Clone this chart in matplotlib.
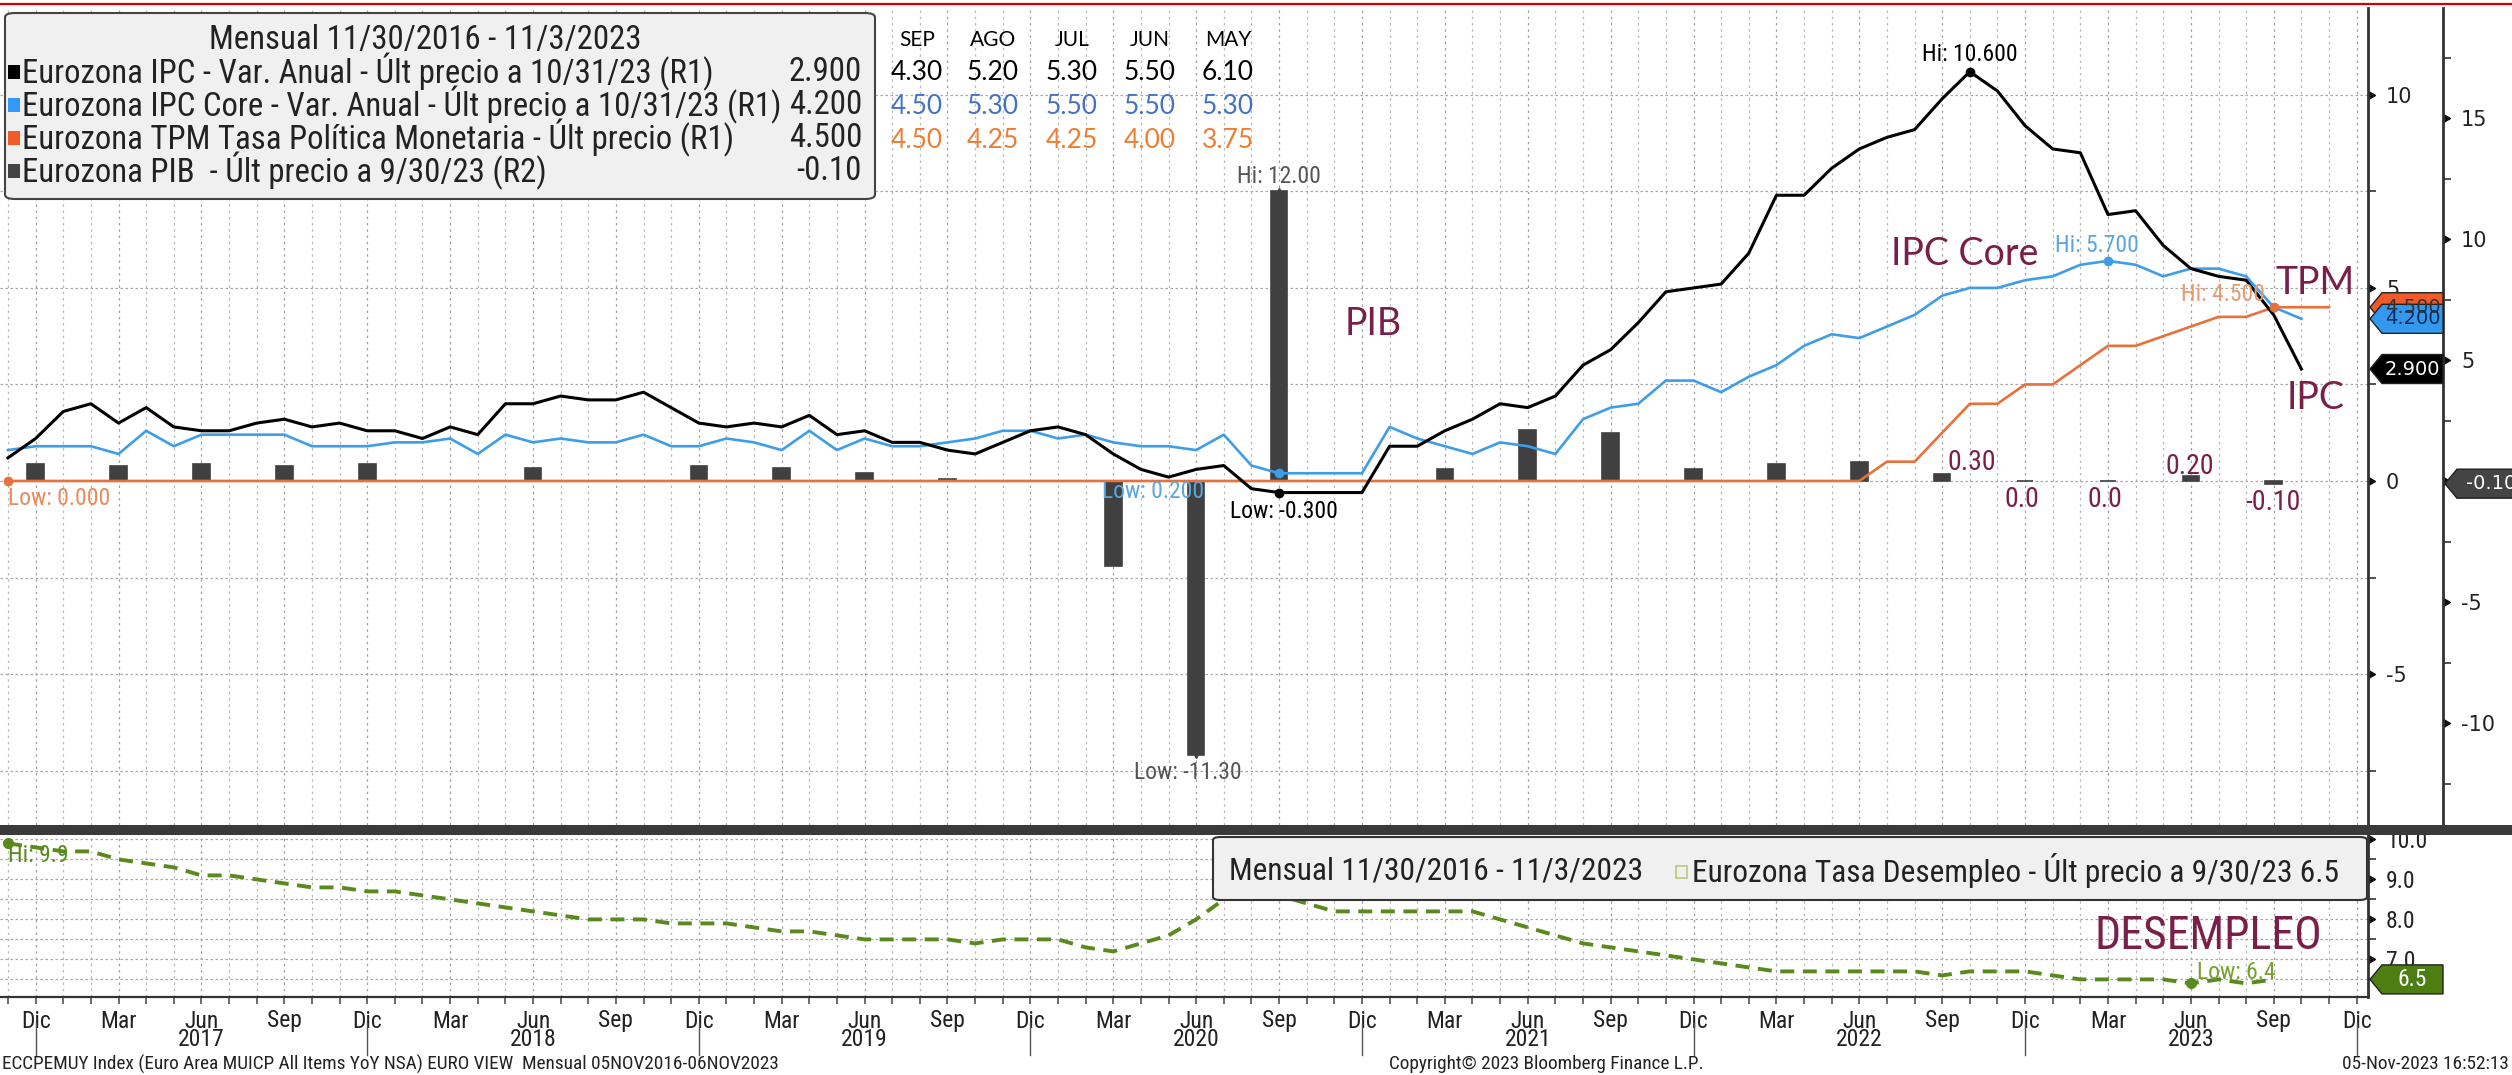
import numpy as np
import pandas as pd
import matplotlib
matplotlib.use("Agg")
import matplotlib.pyplot as plt
from matplotlib import font_manager
from matplotlib.patches import Polygon, FancyBboxPatch, Rectangle
from matplotlib.lines import Line2D
from matplotlib.transforms import IdentityTransform, blended_transform_factory

W, H = 2512, 1075

# ---------------------- datos (mensual desde nov-2016) ----------------------
inicio = pd.Period("2016-11", freq="M")

ipc = [0.6, 1.1,
       1.8, 2.0, 1.5, 1.9, 1.4, 1.3, 1.3, 1.5, 1.6, 1.4, 1.5, 1.3,
       1.3, 1.1, 1.4, 1.2, 2.0, 2.0, 2.2, 2.1, 2.1, 2.3, 1.9, 1.5,
       1.4, 1.5, 1.4, 1.7, 1.2, 1.3, 1.0, 1.0, 0.8, 0.7, 1.0, 1.3,
       1.4, 1.2, 0.7, 0.3, 0.1, 0.3, 0.4, -0.2, -0.3, -0.3, -0.3, -0.3,
       0.9, 0.9, 1.3, 1.6, 2.0, 1.9, 2.2, 3.0, 3.4, 4.1, 4.9, 5.0,
       5.1, 5.9, 7.4, 7.4, 8.1, 8.6, 8.9, 9.1, 9.9, 10.6, 10.1, 9.2,
       8.6, 8.5, 6.9, 7.0, 6.1, 5.5, 5.3, 5.2, 4.3, 2.9]

ipc_core = [0.8, 0.9,
            0.9, 0.9, 0.7, 1.3, 0.9, 1.2, 1.2, 1.2, 1.2, 0.9, 0.9, 0.9,
            1.0, 1.0, 1.1, 0.7, 1.2, 1.0, 1.1, 1.0, 1.0, 1.2, 0.9, 0.9,
            1.1, 1.0, 0.8, 1.3, 0.8, 1.1, 0.9, 0.9, 1.0, 1.1, 1.3, 1.3,
            1.1, 1.2, 1.0, 0.9, 0.9, 0.8, 1.2, 0.4, 0.2, 0.2, 0.2, 0.2,
            1.4, 1.1, 0.9, 0.7, 1.0, 0.9, 0.7, 1.6, 1.9, 2.0, 2.6, 2.6,
            2.3, 2.7, 3.0, 3.5, 3.8, 3.7, 4.0, 4.3, 4.8, 5.0, 5.0, 5.2,
            5.3, 5.6, 5.7, 5.6, 5.3, 5.5, 5.5, 5.3, 4.5, 4.2]

# nov-2016 .. nov-2023
tpm = [0.0, 0.0,
       0.0, 0.0, 0.0, 0.0, 0.0, 0.0, 0.0, 0.0, 0.0, 0.0, 0.0, 0.0,
       0.0, 0.0, 0.0, 0.0, 0.0, 0.0, 0.0, 0.0, 0.0, 0.0, 0.0, 0.0,
       0.0, 0.0, 0.0, 0.0, 0.0, 0.0, 0.0, 0.0, 0.0, 0.0, 0.0, 0.0,
       0.0, 0.0, 0.0, 0.0, 0.0, 0.0, 0.0, 0.0, 0.0, 0.0, 0.0, 0.0,
       0.0, 0.0, 0.0, 0.0, 0.0, 0.0, 0.0, 0.0, 0.0, 0.0, 0.0, 0.0,
       0.0, 0.0, 0.0, 0.0, 0.0, 0.0, 0.5, 0.5, 1.25, 2.0, 2.0, 2.5,
       2.5, 3.0, 3.5, 3.5, 3.75, 4.0, 4.25, 4.25, 4.5, 4.5, 4.5]

# nov-2016 .. sep-2023
desempleo = [9.9, 9.8,
             9.7, 9.7, 9.5, 9.4, 9.3, 9.1, 9.1, 9.0, 8.9, 8.8, 8.8, 8.7,
             8.7, 8.6, 8.5, 8.4, 8.3, 8.2, 8.1, 8.0, 8.0, 8.0, 7.9, 7.9,
             7.9, 7.8, 7.7, 7.7, 7.6, 7.5, 7.5, 7.5, 7.5, 7.4, 7.5, 7.5,
             7.5, 7.3, 7.2, 7.4, 7.6, 8.0, 8.5, 8.6, 8.6, 8.4, 8.2, 8.2,
             8.2, 8.2, 8.2, 8.2, 8.0, 7.8, 7.6, 7.4, 7.3, 7.2, 7.1, 7.0,
             6.9, 6.8, 6.7, 6.7, 6.7, 6.7, 6.7, 6.7, 6.6, 6.7, 6.7, 6.7,
             6.6, 6.5, 6.5, 6.5, 6.5, 6.4, 6.5, 6.4, 6.5]

pib_fechas = ["2016-12", "2017-03", "2017-06", "2017-09", "2017-12", "2018-06",
              "2018-12", "2019-03", "2019-06", "2019-09", "2020-03", "2020-06",
              "2020-09", "2021-03", "2021-06", "2021-09", "2021-12", "2022-03",
              "2022-06", "2022-09", "2022-12", "2023-03", "2023-06", "2023-09"]
pib = [0.7, 0.65, 0.7, 0.65, 0.7, 0.55, 0.65, 0.55, 0.35, 0.1, -3.5, -11.3,
       12.0, 0.5, 2.1, 2.0, 0.5, 0.7, 0.8, 0.3, 0.0, 0.0, 0.2, -0.1]

meses_tabla = ["SEP", "AGO", "JUL", "JUN", "MAY"]
nombre_trim = {3: "Mar", 6: "Jun", 9: "Sep", 12: "Dic"}

# ---------------------- fuentes y colores ----------------------
disponibles = {f.name for f in font_manager.fontManager.ttflist}
ESTRECHA = next((n for n in ["Liberation Sans Narrow", "Roboto Condensed",
                             "Open Sans Condensed"] if n in disponibles), "DejaVu Sans")
NARROW = [ESTRECHA, "DejaVu Sans"]
CALIBRI = ["Lato", "DejaVu Sans"]

AZUL = "#3e9de8"
NARANJA = "#e8703a"
GRIS_PIB = "#404040"
VERDE = "#5a8a1e"
GRANATE = "#7a1f48"
REJ = "#b8b8b8"

x_ipc = np.arange(len(ipc))
x_core = np.arange(len(ipc_core))
x_tpm = np.arange(len(tpm))
x_des = np.arange(len(desempleo))
x_pib = np.array([(pd.Period(f, freq="M") - inicio).n for f in pib_fechas])

fig = plt.figure(figsize=(W / 100, H / 100), dpi=100)
fig.patch.set_facecolor("white")

def texto(x, y, s, **kw):
    return fig.text(x / W, 1 - y / H, s, **kw)

pos_main = [0, 1 - 825 / H, 2368 / W, (825 - 8) / H]
pos_low = [0, 1 - 997 / H, 2368 / W, (997 - 835) / H]
XLIM = (-0.29, 85.41)
R1 = (-8.91, 12.25)
R2 = (-14.2, 19.55)
LOW = (6.06, 10.11)

ax_g = fig.add_axes(pos_main, label="rejilla")
ax_b = fig.add_axes(pos_main, label="pib")
ax = fig.add_axes(pos_main, label="lineas")
axd = fig.add_axes(pos_low, label="desempleo")

meses_todos = pd.period_range("2016-11", "2023-12", freq="M")
pos_meses = np.arange(len(meses_todos))
trim = [i for i, p in enumerate(meses_todos) if p.month in nombre_trim]

def rejilla(a, horizontales):
    for i in pos_meses:
        c = "#a0a0a0" if i in trim else REJ
        a.axvline(i, color=c, lw=0.9, ls=(0, (2, 3)), zorder=0)
    for v in horizontales:
        a.axhline(v, color="#a8a8a8", lw=0.9, ls=(0, (2, 2)), zorder=0)

for a in (ax_g, ax_b, ax):
    a.set_xlim(*XLIM)
    for s in a.spines.values():
        s.set_visible(False)
    a.tick_params(axis="x", bottom=False, labelbottom=False)
ax_g.set_ylim(*R1)
ax_g.set_yticks([])
rejilla(ax_g, np.arange(-7.5, 12.3, 2.5))

ax_b.set_ylim(*R2)
ax_b.patch.set_visible(False)
ax.set_ylim(*R1)
ax.patch.set_visible(False)

flecha = [(0, -1), (1.7, 0), (0, 1)]

def eje_derecho(a, xpos, mayores, menores, fmt, fam, size, ocultar=()):
    a.yaxis.tick_right()
    a.spines["right"].set_visible(True)
    a.spines["right"].set_position(("axes", xpos))
    a.spines["right"].set_color("#333333")
    a.spines["right"].set_linewidth(2)
    a.set_yticks(mayores)
    a.set_yticks(menores, minor=True)
    a.set_yticklabels(["" if v in ocultar else fmt.format(v) for v in mayores],
                      family=fam, fontsize=size, color="#222")
    a.tick_params(axis="y", which="major", length=0, pad=13)
    a.tick_params(axis="y", which="minor", length=6, width=1.2, color="#333")
    tr = blended_transform_factory(a.transAxes, a.transData)
    a.plot([xpos] * len(mayores), mayores, ls="none", marker=flecha, ms=10,
           color="#111", transform=tr, clip_on=False)

eje_derecho(ax, 1.0, [-5, 0, 5, 10], [-7.5, -2.5, 2.5, 7.5], "{:g}", ["DejaVu Sans"], 15)
# el 0 de R2 queda tapado por la etiqueta del último PIB
eje_derecho(ax_b, 2443 / 2368, [-10, -5, 0, 5, 10, 15],
            [-12.5, -7.5, -2.5, 2.5, 7.5, 12.5, 17.5], "{:g}", ["DejaVu Sans"], 15, ocultar=(0,))

# ---------------------- series ----------------------
ax_b.bar(x_pib, pib, width=0.6, color=GRIS_PIB, edgecolor=GRIS_PIB, lw=1.2, zorder=2)
ax.plot(x_tpm, tpm, color=NARANJA, lw=1.9, zorder=3, clip_on=False)
ax.plot(x_core, ipc_core, color=AZUL, lw=1.9, zorder=3)
ax.plot(x_ipc, ipc, color="black", lw=2.2, zorder=4)

def marca(a, x, y, txt, color, dx, dy, ha="center", mk="o", ms=6, size=17, tcolor=None):
    a.plot([x], [y], marker=mk, ms=ms, color=color, zorder=6, clip_on=False)
    a.annotate(txt, (x, y), xytext=(dx, dy), textcoords="offset pixels", ha=ha,
               va="center", color=tcolor or color, fontsize=size, family=NARROW,
               annotation_clip=False, zorder=7)

i = int(np.argmax(ipc)); marca(ax, i, ipc[i], f"Hi: {ipc[i]:.3f}", "black", 0, 17)
i = int(np.argmin(ipc)); marca(ax, i, ipc[i], f"Low: {ipc[i]:.3f}", "black", 5, -19)
i = int(np.argmax(ipc_core)); marca(ax, i, ipc_core[i], f"Hi: {ipc_core[i]:.3f}", AZUL, -11, 15, tcolor="#5aa7e0")
i = int(np.argmin(ipc_core)); marca(ax, i, ipc_core[i], f"Low: {ipc_core[i]:.3f}", AZUL, -75, -18, ha="right", tcolor="#5aa7e0")
i = int(np.argmax(tpm)); marca(ax, i, tpm[i], f"Hi: {tpm[i]:.3f}", NARANJA, -51, 13, tcolor="#e99a70")
i = int(np.argmin(tpm)); marca(ax, i, tpm[i], f"Low: {tpm[i]:.3f}", NARANJA, 0, -18, ha="left", tcolor="#e88a5a")
i = int(np.argmax(pib)); marca(ax_b, x_pib[i], pib[i], f"Hi: {pib[i]:.2f}", GRIS_PIB, 0, 14, mk="^", ms=5, tcolor="#555")
i = int(np.argmin(pib)); marca(ax_b, x_pib[i], pib[i], f"Low: {pib[i]:.2f}", GRIS_PIB, -8, -18, mk="v", ms=5, tcolor="#555")

# ---------------------- panel inferior: desempleo ----------------------
axd.set_xlim(*XLIM)
axd.set_ylim(*LOW)
for s in ("top", "left"):
    axd.spines[s].set_visible(False)
axd.spines["bottom"].set_color("#333")
axd.spines["bottom"].set_linewidth(1.6)
rejilla(axd, np.arange(6.5, 10.01, 0.5))
eje_derecho(axd, 1.0, [7, 8, 9, 10], [6.5, 7.5, 8.5, 9.5], "{:.1f}", NARROW, 17)
axd.plot(x_des, desempleo, color=VERDE, lw=2.8, ls=(0, (3.6, 2.2)), zorder=3)
i = int(np.argmax(desempleo)); marca(axd, i, desempleo[i], f"Hi: {desempleo[i]:.1f}", VERDE, 0, -12, ha="left", ms=7)
i = int(np.argmin(desempleo)); marca(axd, i, desempleo[i], f"Low: {desempleo[i]:.1f}", VERDE, 45, 11, ms=7, tcolor="#78a030")

axd.set_xticks(trim)
axd.set_xticklabels([nombre_trim[meses_todos[i].month] for i in trim], family=NARROW,
                    fontsize=17, color="#222")
axd.set_xticks(pos_meses, minor=True)
axd.tick_params(axis="x", which="both", length=5, width=1.1, color="#444", pad=4)
trx = blended_transform_factory(axd.transData, axd.transAxes)
for i, p in enumerate(meses_todos):
    if p.month == 12:
        axd.plot([i, i], [-0.16, -0.36], color="#555", lw=1, transform=trx, clip_on=False)
    if p.month == 6:
        axd.text(i, -0.265, str(p.year), transform=trx, ha="center", va="center",
                 family=NARROW, fontsize=17, color="#222")

# ---------------------- decoración de figura ----------------------
fig.add_artist(Line2D([0, 1], [1 - 4 / H] * 2, transform=fig.transFigure, color="#d40000", lw=1.6))
fig.add_artist(Rectangle((0, 1 - 835 / H), 1, 10 / H, transform=fig.transFigure,
                         fc="#3a3a3a", ec="none", zorder=2))

rend = fig.canvas.get_renderer()

def ajustar(t, ancho):
    w = t.get_window_extent(rend).width
    t.set_fontsize(t.get_fontsize() * ancho / w)
    return t.get_fontsize()

# leyenda principal
fig.add_artist(FancyBboxPatch((5 / W, 1 - 199 / H), 870 / W, 186 / H,
                              boxstyle="round,pad=0,rounding_size=0.004",
                              transform=fig.transFigure, fc="#f0f0f0", ec="#444", lw=1.5, zorder=3))
filas = [("Eurozona IPC - Var. Anual - Últ precio a 10/31/23 (R1)", f"{ipc[-1]:.3f}", "black"),
         ("Eurozona IPC Core - Var. Anual - Últ precio a 10/31/23 (R1)", f"{ipc_core[-1]:.3f}", "#3399ff"),
         ("Eurozona TPM Tasa Política Monetaria - Últ precio (R1)", f"{tpm[-1]:.3f}", "#f05a28"),
         ("Eurozona PIB  - Últ precio a 9/30/23 (R2)", f"{pib[-1]:.2f}", "#444444")]
t0 = texto(22, 72, filas[0][0], family=NARROW, fontsize=20, va="center", color="#222", zorder=4)
tam = ajustar(t0, 690)
for k, (nom, val, col) in enumerate(filas):
    y = 72 + k * 33
    if k:
        texto(22, y, nom, family=NARROW, fontsize=tam, va="center", color="#222", zorder=4)
    texto(862, y, val, family=NARROW, fontsize=tam, va="center", ha="right", color="#222", zorder=4)
    fig.add_artist(Rectangle((8 / W, 1 - (y + 7) / H), 12 / W, 14 / H, transform=fig.transFigure,
                             fc=col, ec="none", zorder=4))
texto(425, 40, "Mensual 11/30/2016 - 11/3/2023", family=NARROW, fontsize=tam, va="center",
      ha="center", color="#222", zorder=4)

# tabla de últimos meses
i_sep = (pd.Period("2023-09", freq="M") - inicio).n
cols_x = [917, 993, 1072, 1150, 1228]
for k, mes in enumerate(meses_tabla):
    cx = cols_x[k]
    texto(cx, 40, mes, family=CALIBRI, fontsize=15, ha="center", va="center", color="black")
    texto(cx, 73, f"{ipc[i_sep - k]:.2f}", family=CALIBRI, fontsize=19, ha="center", va="center", color="black")
    texto(cx, 107, f"{ipc_core[i_sep - k]:.2f}", family=CALIBRI, fontsize=19, ha="center", va="center", color="#4472c4")
    texto(cx, 140, f"{tpm[i_sep - k]:.2f}", family=CALIBRI, fontsize=19, ha="center", va="center", color="#ed7d31")

# rótulos del autor
texto(1373, 324, "PIB", family=CALIBRI, fontsize=27, ha="center", va="center", color=GRANATE)
texto(1965, 254, "IPC Core", family=CALIBRI, fontsize=27, ha="center", va="center", color=GRANATE)
texto(2315, 283, "TPM", family=CALIBRI, fontsize=27, ha="center", va="center", color=GRANATE)
texto(2316, 398, "IPC", family=CALIBRI, fontsize=27, ha="center", va="center", color=GRANATE)
for s, cx, cy in [("0.30", 1972, 462), ("0.0", 2022, 500), ("0.0", 2105, 500),
                  ("0.20", 2190, 466), ("-0.10", 2273, 502)]:
    texto(cx, cy, s, family=NARROW, fontsize=20, ha="center", va="center", color=GRANATE)
texto(2208, 936, "DESEMPLEO", family=NARROW, fontsize=33, ha="center", va="center", color=GRANATE)

# leyenda inferior
fig.add_artist(FancyBboxPatch((1213 / W, 1 - 900 / H), 1154 / W, 63 / H,
                              boxstyle="round,pad=0,rounding_size=0.003",
                              transform=fig.transFigure, fc="#f0f0f0", ec="#333", lw=1.5, zorder=3))
tl = texto(1229, 871, "Mensual 11/30/2016 - 11/3/2023", family=NARROW, fontsize=20,
           va="center", color="#222", zorder=4)
ajustar(tl, 413)
tr_ = texto(2339, 871, f"Eurozona Tasa Desempleo - Últ precio a 9/30/23 {desempleo[-1]:.1f}",
            family=NARROW, fontsize=tl.get_fontsize(), va="center", ha="right", color="#222", zorder=4)
x_izq = tr_.get_window_extent(rend).x0
fig.add_artist(Rectangle(((x_izq - 16) / W, 1 - 878 / H), 11 / W, 12 / H, transform=fig.transFigure,
                         fc="none", ec="#b8c878", lw=1.2, zorder=4))

# pie
tp = texto(2, 1064, "ECCPEMUY Index (Euro Area MUICP All Items YoY NSA) EURO VIEW  Mensual 05NOV2016-06NOV2023",
           family=NARROW, fontsize=14, va="center", color="#222")
tam_pie = ajustar(tp, 784)
texto(1546, 1064, "Copyright© 2023 Bloomberg Finance L.P.", family=NARROW, fontsize=tam_pie,
      ha="center", va="center", color="#222")
texto(2509, 1064, "05-Nov-2023 16:52:13", family=NARROW, fontsize=tam_pie, va="center",
      ha="right", color="#222")

# etiquetas de último valor en los ejes
def etiqueta_eje(a, xpos, valor, txt, fc, tc, ancho, fam=("DejaVu Sans",), size=14, alto=29):
    tr = blended_transform_factory(a.transAxes, a.transData)
    X, Y = tr.transform((xpos, valor))
    X += 2
    p = 12
    verts = [(X, Y), (X + p, Y + alto / 2), (X + ancho, Y + alto / 2),
             (X + ancho, Y - alto / 2), (X + p, Y - alto / 2)]
    fig.add_artist(Polygon(verts, closed=True, transform=IdentityTransform(),
                           fc=fc, ec="#222", lw=1, zorder=5))
    fig.text(X + p + (ancho - p) / 2, Y, txt, transform=IdentityTransform(), ha="center",
             va="center", color=tc, fontsize=size, family=list(fam), zorder=6)

etiqueta_eje(ax, 1.0, tpm[-1], f"{tpm[-1]:.3f}", "#f05a28", "#333", 73)
etiqueta_eje(ax, 1.0, ipc_core[-1], f"{ipc_core[-1]:.3f}", "#3399ee", "#0b2a55", 73)
etiqueta_eje(ax, 1.0, ipc[-1], f"{ipc[-1]:.3f}", "black", "white", 73)
etiqueta_eje(ax_b, 2443 / 2368, pib[-1], f"{pib[-1]:.2f}", "#444444", "white", 80)
etiqueta_eje(axd, 1.0, desempleo[-1], f"{desempleo[-1]:.1f}", "#4e7d12", "white", 73,
             fam=NARROW, size=17)

fig.savefig("out.png", dpi=100, facecolor="white")
